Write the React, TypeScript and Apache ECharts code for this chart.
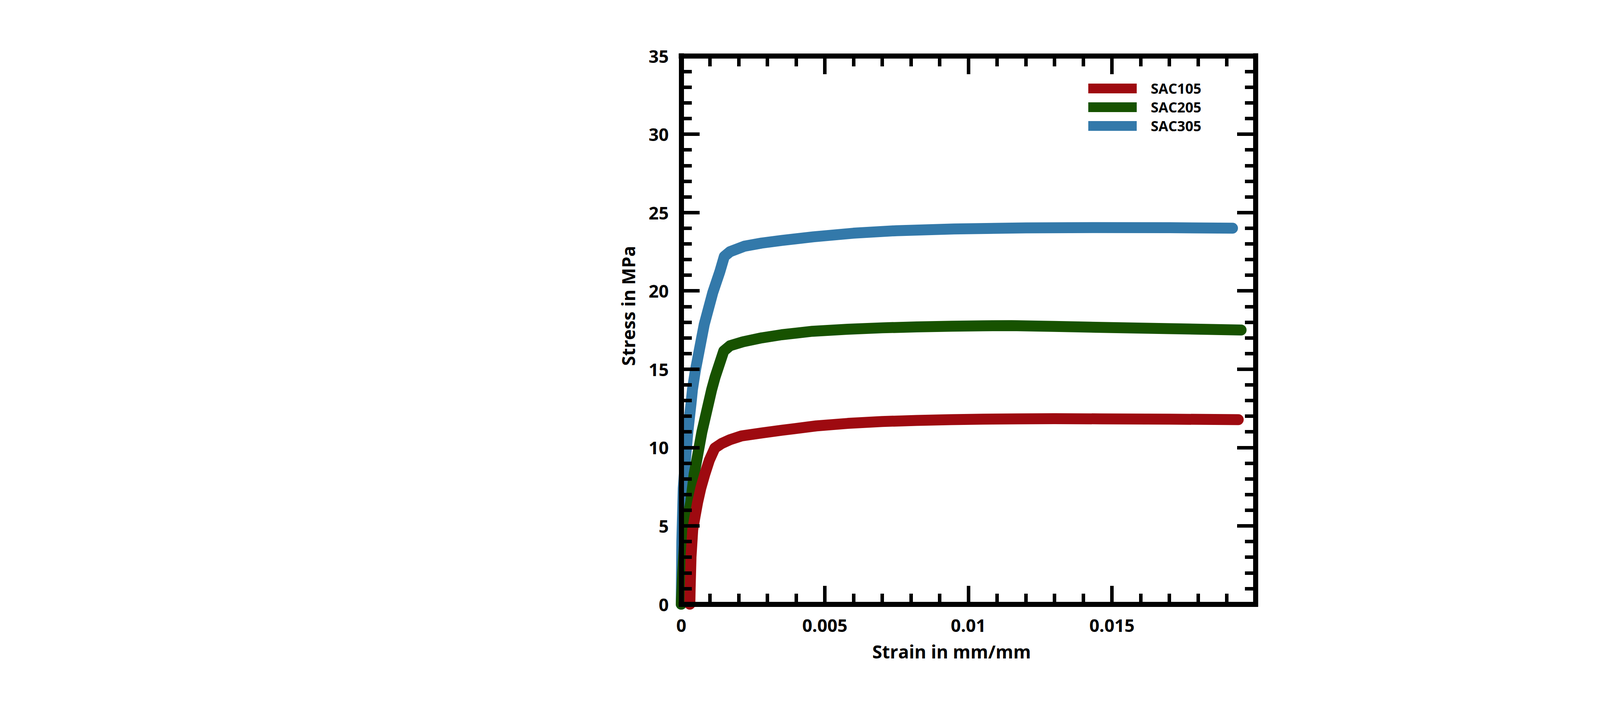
import React, { useEffect, useRef } from "react";
import * as echarts from "echarts";

// ---- Data (strain in mm/mm, stress in MPa) ----
const seriesNames = ["SAC105", "SAC205", "SAC305"];
const seriesColors = ["#9E0A10", "#175200", "#3379AA"];

const strain105 = [0.0003, 0.00031, 0.00034, 0.0004, 0.00048, 0.00057, 0.00068, 0.00082, 0.00098, 0.00117, 0.0014, 0.0017, 0.0021, 0.0028, 0.0035, 0.0047, 0.0058, 0.007, 0.0082, 0.0094, 0.0105, 0.0117, 0.013, 0.0146, 0.017, 0.0194];
const stress105 = [0, 1, 3, 4.75, 5.6, 6.5, 7.4, 8.3, 9.2, 9.97, 10.25, 10.5, 10.74, 10.93, 11.1, 11.38, 11.54, 11.66, 11.73, 11.78, 11.81, 11.83, 11.84, 11.83, 11.81, 11.78];

const strain205 = [0, 0.00005, 0.00014, 0.00033, 0.00045, 0.00072, 0.00106, 0.00118, 0.00148, 0.0017, 0.00215, 0.0028, 0.0035, 0.00457, 0.0058, 0.007, 0.0082, 0.00943, 0.0105, 0.0115, 0.013, 0.01462, 0.017, 0.0195];
const stress205 = [0, 2, 4.75, 6.5, 8.3, 11.0, 13.7, 14.5, 16.16, 16.5, 16.75, 17.0, 17.2, 17.42, 17.55, 17.64, 17.7, 17.74, 17.77, 17.78, 17.73, 17.67, 17.59, 17.5];

const strain305 = [0, 0.00002, 0.00007, 0.000145, 0.00023, 0.00034, 0.00039, 0.00049, 0.0008, 0.0011, 0.00134, 0.0015, 0.0017, 0.0022, 0.0028, 0.0035, 0.0046, 0.006, 0.0075, 0.0095, 0.012, 0.0145, 0.017, 0.0192];
const stress305 = [0, 4, 7.4, 9.2, 11.0, 12.8, 13.7, 14.9, 17.85, 19.9, 21.2, 22.2, 22.5, 22.85, 23.05, 23.22, 23.45, 23.68, 23.84, 23.95, 24.02, 24.04, 24.03, 24.0];

const xMin = 0;
const xMax = 0.02;
const xInterval = 0.005;
const yMin = 0;
const yMax = 35;
const yInterval = 5;

const xTitle = "Strain in mm/mm";
const yTitle = "Stress in MPa";

const FONT = '"Open Sans", "Noto Sans", sans-serif';

function pairs(xs: number[], ys: number[]) {
  return xs.map((x, i) => [x, ys[i]]);
}

export default function App() {
  const ref = useRef<HTMLDivElement>(null);

  useEffect(() => {
    if (!ref.current) return;
    const chart = echarts.init(ref.current, undefined, { renderer: "svg" });

    const axisLine = { show: true, onZero: false, lineStyle: { color: "#000", width: 13, cap: "square" } };
    const majorTick = { show: true, inside: true, length: 47, lineStyle: { color: "#000", width: 9 } };
    const minorTick = { show: true, splitNumber: 5, length: 27, lineStyle: { color: "#000", width: 9 } };

    const dataSets = [
      pairs(strain105, stress105),
      pairs(strain205, stress205),
      pairs(strain305, stress305),
    ];

    // draw SAC305 first, SAC105 last (on top)
    const order = [2, 1, 0];
    const series = order.map((i, k) => ({
      name: seriesNames[i],
      type: "line",
      data: dataSets[i],
      showSymbol: false,
      symbol: "none",
      clip: false,
      smooth: false,
      z: 2 + k,
      color: seriesColors[i],
      itemStyle: { color: seriesColors[i] },
      lineStyle: { color: seriesColors[i], width: 28, cap: "round", join: "round" },
    }));

    chart.setOption({
      animation: false,
      backgroundColor: "#ffffff",
      grid: { left: 1744, top: 143, width: 1470, height: 1404, containLabel: false },
      legend: {
        show: true,
        orient: "vertical",
        left: 2781,
        top: 203.5,
        data: seriesNames,
        icon: "rect",
        itemWidth: 124,
        itemHeight: 25,
        itemGap: 12,
        selectedMode: false,
        textStyle: {
          color: "#000",
          fontFamily: FONT,
          fontWeight: "bold",
          fontSize: 36,
          padding: [0, 0, 0, 31],
        },
      },
      xAxis: [
        {
          type: "value",
          position: "bottom",
          min: xMin,
          max: xMax,
          interval: xInterval,
          z: 10,
          axisLine,
          axisTick: majorTick,
          minorTick,
          splitLine: { show: false },
          minorSplitLine: { show: false },
          axisLabel: {
            show: true,
            margin: 31,
            color: "#000",
            fontFamily: FONT,
            fontWeight: "bold",
            fontSize: 45,
            showMaxLabel: false,
          },
        },
        {
          type: "value",
          position: "top",
          min: xMin,
          max: xMax,
          interval: xInterval,
          z: 10,
          axisLine,
          axisTick: majorTick,
          minorTick,
          splitLine: { show: false },
          axisLabel: { show: false },
        },
      ],
      yAxis: [
        {
          type: "value",
          position: "left",
          min: yMin,
          max: yMax,
          interval: yInterval,
          z: 10,
          axisLine,
          axisTick: majorTick,
          minorTick,
          splitLine: { show: false },
          minorSplitLine: { show: false },
          axisLabel: {
            show: true,
            margin: 32,
            color: "#000",
            fontFamily: FONT,
            fontWeight: "bold",
            fontSize: 45,
            padding: [0, 0, 26, 0],
          },
        },
        {
          type: "value",
          position: "right",
          min: yMin,
          max: yMax,
          interval: yInterval,
          z: 10,
          axisLine,
          axisTick: majorTick,
          minorTick,
          splitLine: { show: false },
          axisLabel: { show: false },
        },
      ],
      graphic: [
        {
          type: "text",
          x: 2436,
          y: 1668,
          style: {
            text: xTitle,
            fill: "#000",
            font: `bold 46px ${FONT}`,
            align: "center",
            verticalAlign: "middle",
            textAlign: "center",
            textVerticalAlign: "middle",
          },
        },
        {
          type: "text",
          x: 1608,
          y: 783,
          rotation: Math.PI / 2,
          style: {
            text: yTitle,
            fill: "#000",
            font: `bold 46px ${FONT}`,
            align: "center",
            verticalAlign: "middle",
            textAlign: "center",
            textVerticalAlign: "middle",
          },
        },
      ],
      series,
    });

    return () => {
      chart.dispose();
    };
  }, []);

  return (
    <div
      ref={ref}
      style={{ position: "fixed", left: 0, top: 0, width: 4800, height: 1800, background: "#fff" }}
    />
  );
}
